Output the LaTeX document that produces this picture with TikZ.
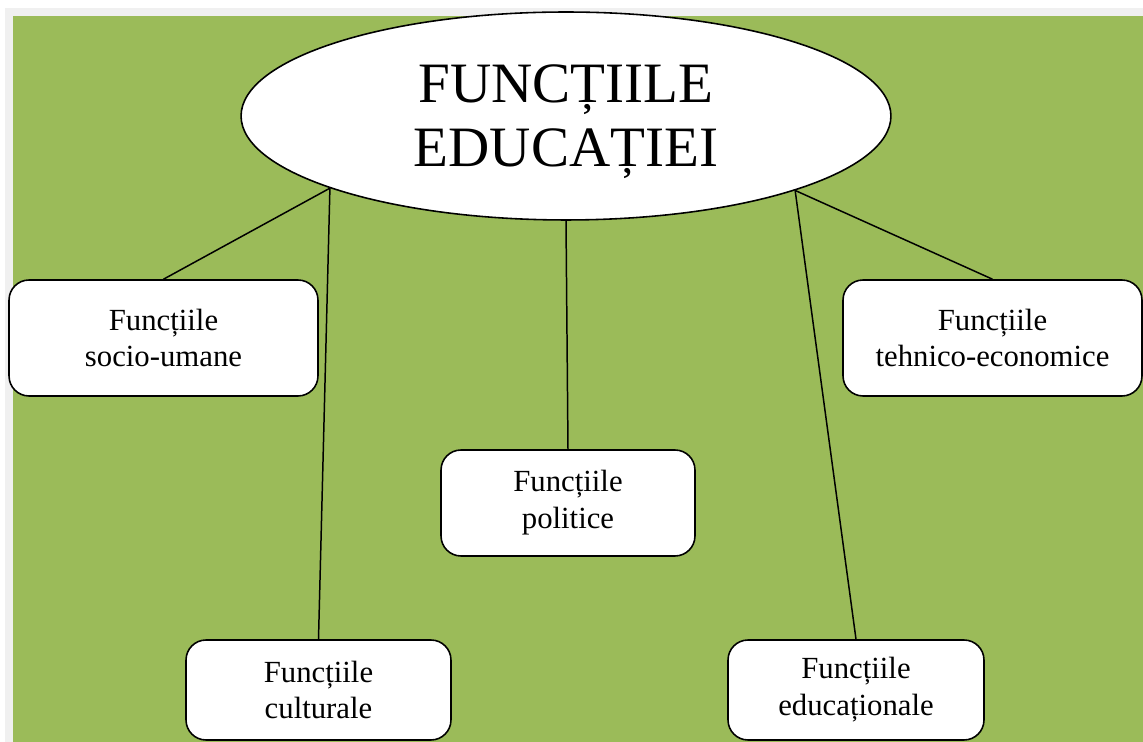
\documentclass[tikz,border=0pt]{standalone}
\usepackage{fontspec}
\setmainfont{Liberation Serif}
\usepackage{tikz}
\usetikzlibrary{shapes,positioning}
\definecolor{bggreen}{HTML}{9BBB59}
\definecolor{bggray}{HTML}{F0F0F0}
\tikzset{ce/.style={draw,fill=white,ellipse,minimum width=13cm,minimum
height=4.16cm,inner sep=0pt,line width=0.9pt,text=black,align=center,text depth=0pt,
font=\fontsize{32.5}{36.5}\selectfont},fb/.style={draw,fill=white,rectangle,
rounded corners=0.4cm,inner sep=0pt,line width=0.9pt,text=black,align=center,
font=\fontsize{17.5}{21}\selectfont},ln/.style={line width=0.85pt}}

\begin{document}
\begin{tikzpicture}[x=0.02cm,y=-0.02cm]
	\useasboundingbox (0,0) rectangle (1143,742);
	\fill[white] (0,0) rectangle (1143,742);
	\fill[bggray] (5,8) rectangle (1143,742);
	\fill[bggreen] (13,16) rectangle (1143,742);
	% centre
	\node[ce] (fe) at (566,116) {FUNCȚIILE\\EDUCAȚIEI};
	% functions
	\node[fb,minimum width=6.18cm,minimum height=2.32cm] (su) at (163.5,338) {Funcțiile\\socio-umane};
	\node[fb,minimum width=5.98cm,minimum height=2.32cm] (te) at (992.5,338) {Funcțiile\\tehnico-economice};
	\node[fb,minimum width=5.08cm,minimum height=2.12cm] (po) at (568,503) {Funcțiile\\politice};
	\node[fb,minimum width=5.3cm,minimum height=2cm] (cu) at (318.5,690) {Funcțiile\\culturale};
	\node[fb,minimum width=5.12cm,minimum height=2cm] (ed) at (856,690) {Funcțiile\\educaționale};
	\draw[ln] (fe.197.8) -- (su.north);
	\draw[ln] (fe.197.8) -- (cu.north);
	\draw[ln] (fe.south) -- (po.north);
	\draw[ln] (fe.342.2) -- (ed.north);
	\draw[ln] (fe.342.2) -- (te.north);
\end{tikzpicture}
\end{document}
